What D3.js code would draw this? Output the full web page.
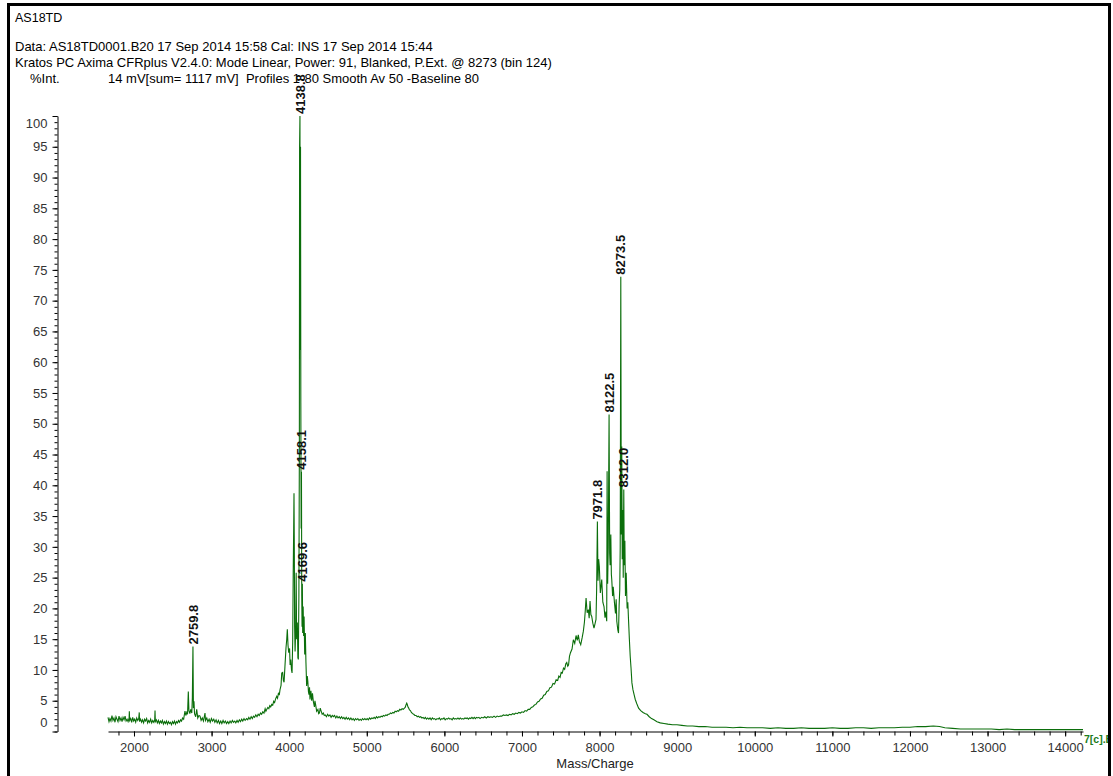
<!DOCTYPE html>
<html>
<head>
<meta charset="utf-8">
<script src="https://cdn.jsdelivr.net/npm/d3@7"></script>
<style>
  html, body { margin: 0; padding: 0; background: #fff; }
  svg { display: block; }
  text { font-family: "Liberation Sans", Arial, sans-serif; }
</style>
</head>
<body>
<div id="chart"></div>
<script>
// header lines
const titleLine = 'AS18TD';
const infoLines = [
  'Data: AS18TD0001.B20 17 Sep 2014 15:58 Cal: INS 17 Sep 2014 15:44',
  'Kratos PC Axima CFRplus V2.4.0: Mode Linear, Power: 91, Blanked, P.Ext. @ 8273 (bin 124)'
];
const yTitle = '%Int.';
const scanInfo = '14 mV[sum= 1117 mV]  Profiles 1-80 Smooth Av 50 -Baseline 80';
const xTitle = 'Mass/Charge';
const traceTag = '7[c].B20';

// axis ticks
const yMajorTicks = [0, 5, 10, 15, 20, 25, 30, 35, 40, 45, 50, 55, 60, 65, 70, 75, 80, 85, 90, 95, 100];
const xMajorTicks = [2000, 3000, 4000, 5000, 6000, 7000, 8000, 9000, 10000, 11000, 12000, 13000, 14000];

// spectrum: [mass/charge, %int]
const lowMass = [
  [1665, 2.3], [1678, 1.6], [1690, 2.1], [1703, 1.7], [1716, 2.6], [1729, 1.8], [1742, 2.2], [1755, 1.5],
  [1768, 2.4], [1781, 2.0], [1794, 1.6], [1807, 2.5], [1820, 1.8], [1833, 2.2], [1846, 1.6], [1859, 2.3],
  [1872, 1.9], [1885, 2.5], [1898, 1.7], [1911, 2.0], [1924, 1.6], [1937, 2.2], [1940, 3.3], [1944, 1.8],
  [1957, 2.1], [1970, 1.5], [1983, 2.3], [1996, 1.7], [2009, 2.0], [2022, 1.5], [2035, 2.2], [2048, 1.8],
  [2061, 2.1], [2068, 3.1], [2072, 1.6], [2085, 2.0], [2098, 1.5], [2111, 1.9], [2124, 1.4], [2137, 2.0],
  [2150, 1.7], [2163, 2.1], [2176, 1.4], [2189, 1.8], [2202, 1.5], [2215, 2.0], [2228, 1.4], [2241, 1.8],
  [2254, 1.5], [2267, 1.9], [2271, 3.4], [2275, 1.6], [2288, 1.9], [2301, 1.4], [2314, 1.8], [2327, 1.3],
  [2340, 1.7], [2353, 1.4], [2366, 1.8], [2379, 1.2], [2392, 1.6], [2405, 1.3], [2418, 1.7], [2431, 1.2],
  [2444, 1.6], [2457, 1.3], [2470, 1.5], [2483, 1.1], [2496, 1.6], [2509, 1.3], [2522, 1.7], [2535, 1.2],
  [2548, 1.6], [2561, 1.4], [2574, 1.8], [2587, 1.5], [2600, 1.9], [2613, 1.7], [2626, 2.2], [2640, 2.0],
  [2650, 2.8], [2657, 3.3], [2668, 2.6], [2680, 3.1], [2690, 2.8], [2700, 6.5], [2708, 3.4], [2720, 2.9],
  [2731, 3.6], [2745, 3.0], [2752, 5.5], [2759.8, 13.8], [2766, 3.8], [2773, 4.9], [2780, 2.9], [2795, 2.4],
  [2808, 3.6], [2822, 2.2], [2837, 2.6], [2851, 2.5], [2865, 1.8], [2880, 2.2], [2895, 1.7], [2915, 3.0],
  [2922, 1.8], [2938, 2.2], [2952, 1.6], [2968, 2.0], [2982, 1.5], [2998, 2.1], [3012, 1.7], [3028, 2.0],
  [3042, 1.5], [3058, 1.9], [3072, 1.4], [3088, 1.8], [3102, 1.3], [3118, 1.7], [3132, 1.3], [3148, 1.8],
  [3162, 1.4], [3178, 1.7], [3192, 1.3], [3208, 1.6], [3222, 1.3], [3238, 1.7], [3252, 1.4], [3268, 1.8],
  [3282, 1.5], [3298, 1.7], [3312, 1.4], [3328, 1.8], [3342, 1.5], [3358, 1.9], [3372, 1.6], [3388, 2.0],
  [3402, 1.7], [3418, 2.1], [3432, 1.8], [3452, 2.1], [3466, 1.9], [3480, 2.3], [3495, 2.0], [3510, 2.4],
  [3525, 2.1], [3540, 2.5], [3555, 2.3], [3570, 2.7], [3585, 2.4], [3600, 2.8], [3615, 2.6], [3630, 3.0],
  [3645, 2.8], [3660, 3.2], [3675, 3.0], [3690, 3.7], [3700, 3.3], [3712, 3.6], [3725, 3.9], [3738, 3.7],
  [3750, 4.2], [3762, 4.0], [3775, 4.4], [3788, 4.3], [3800, 4.9], [3812, 4.7], [3825, 5.3], [3839, 5.7],
  [3850, 5.4], [3862, 6.3], [3872, 5.9]
];
const cluster4k = [
  [3882, 6.8], [3895, 7.5], [3904, 9.5], [3916, 9.6], [3925, 8.3], [3934, 8.0], [3945, 10.5], [3959, 13.6],
  [3968, 14.9], [3976, 16.6], [3985, 14.0], [3994, 12.8], [4005, 13.5], [4012, 10.8], [4020, 11.7], [4030, 10.0],
  [4037, 9.5], [4045, 14.5], [4052, 26], [4058, 33], [4062, 38.7], [4066, 30], [4070, 17], [4076, 13],
  [4084, 16.6], [4090, 25.8], [4096, 15], [4105, 17.7], [4112, 12], [4118, 11.7], [4125, 22], [4131, 45],
  [4134, 95], [4138.8, 100], [4142, 62], [4146, 95], [4150, 53.4], [4154, 33], [4158.1, 42.2], [4162, 22],
  [4166, 17], [4169.6, 24], [4174, 16], [4180, 20.3], [4186, 15.5], [4192, 18.7], [4200, 12.5], [4208, 16],
  [4216, 11.2], [4225, 7.4], [4233, 9.0], [4240, 8.2], [4248, 6.5], [4255, 6.0], [4262, 7.2], [4268, 5.2],
  [4280, 6.6], [4290, 5.0], [4300, 6.2], [4311, 4.9], [4325, 4.0], [4332, 5.0], [4340, 4.4], [4354, 3.3],
  [4370, 3.6], [4380, 2.9], [4390, 3.0], [4400, 3.8], [4410, 3.4], [4425, 2.8], [4440, 3.0], [4452, 2.6]
];
const midMass = [
  [4465, 2.7], [4480, 2.4], [4495, 2.8], [4510, 2.5], [4525, 2.7], [4540, 2.3], [4555, 2.6], [4570, 2.4],
  [4585, 2.6], [4600, 2.2], [4615, 2.5], [4630, 2.2], [4645, 2.4], [4660, 2.1], [4675, 2.4], [4690, 2.1],
  [4705, 2.3], [4720, 2.0], [4735, 2.3], [4750, 2.0], [4765, 2.2], [4780, 1.9], [4795, 2.2], [4810, 1.9],
  [4825, 2.1], [4840, 1.8], [4855, 2.1], [4870, 1.9], [4885, 2.1], [4900, 1.8], [4915, 2.0], [4930, 1.8],
  [4945, 2.1], [4960, 1.9], [4975, 2.1], [4990, 1.9], [5005, 2.1], [5020, 1.9], [5035, 2.2], [5050, 2.0],
  [5065, 2.2], [5080, 2.1], [5095, 2.3], [5110, 2.1], [5125, 2.4], [5140, 2.2], [5155, 2.4], [5170, 2.3],
  [5185, 2.5], [5200, 2.4], [5215, 2.6], [5230, 2.5], [5245, 2.7], [5260, 2.6], [5275, 2.8], [5290, 2.8],
  [5305, 3.0], [5320, 2.9], [5335, 3.1], [5350, 3.0], [5365, 3.3], [5380, 3.2], [5395, 3.4], [5410, 3.3],
  [5425, 3.6], [5440, 3.5], [5455, 3.7], [5470, 3.6], [5485, 3.8], [5495, 3.9], [5505, 4.3], [5515, 4.6],
  [5522, 4.4], [5530, 4.0], [5540, 3.8], [5550, 3.5], [5562, 3.4], [5575, 3.1], [5590, 2.9], [5605, 2.8],
  [5620, 2.6], [5635, 2.6], [5650, 2.4], [5665, 2.5], [5680, 2.3], [5695, 2.4], [5710, 2.2], [5725, 2.3],
  [5740, 2.1], [5755, 2.3], [5770, 2.0], [5785, 2.2], [5800, 2.0], [5815, 2.2], [5830, 1.9], [5845, 2.2],
  [5860, 2.0], [5875, 2.1], [5890, 1.9], [5905, 2.1], [5920, 2.0], [5935, 2.2], [5950, 1.9], [5965, 2.1],
  [5980, 2.0], [5995, 2.2], [6010, 1.9], [6025, 2.1], [6040, 2.0], [6055, 2.2], [6070, 2.0], [6085, 2.1],
  [6100, 1.9], [6115, 2.2], [6130, 2.0], [6145, 2.1], [6160, 2.0], [6175, 2.2], [6190, 2.0], [6205, 2.2],
  [6220, 2.0], [6235, 2.1], [6250, 2.0], [6265, 2.2], [6280, 2.1], [6295, 2.2], [6310, 2.0], [6325, 2.2],
  [6340, 2.1], [6355, 2.3], [6370, 2.1], [6385, 2.3], [6400, 2.1], [6415, 2.3], [6430, 2.2], [6445, 2.3],
  [6460, 2.1], [6480, 2.3], [6500, 2.2], [6520, 2.4], [6540, 2.2], [6560, 2.4], [6580, 2.3], [6600, 2.4],
  [6620, 2.3], [6640, 2.5], [6660, 2.3], [6680, 2.5], [6700, 2.4], [6720, 2.5], [6740, 2.5], [6760, 2.7],
  [6780, 2.6], [6800, 2.7], [6820, 2.6], [6840, 2.8], [6860, 2.7], [6880, 2.9], [6900, 2.8], [6920, 3.0],
  [6940, 2.9], [6960, 3.1], [6980, 3.0], [7000, 3.2], [7020, 3.1], [7040, 3.4], [7060, 3.3], [7080, 3.6],
  [7100, 3.6], [7120, 3.9], [7140, 4.0], [7160, 4.3], [7180, 4.4], [7200, 4.8], [7220, 4.9], [7240, 5.3],
  [7260, 5.4], [7280, 5.9], [7300, 6.0], [7320, 6.5], [7340, 6.6], [7360, 7.1], [7380, 7.2], [7400, 7.8],
  [7420, 7.7], [7440, 8.4], [7460, 8.3], [7475, 9.0], [7491, 8.8], [7505, 9.6], [7520, 9.5], [7535, 10.3],
  [7550, 10.1], [7565, 11.0], [7577, 11.2], [7590, 10.6], [7600, 10.8], [7612, 12.2], [7625, 12.8]
];
const cluster8k = [
  [7645, 13.4], [7662, 14.9], [7680, 14.3], [7697, 15.6], [7712, 14.8], [7726, 15.7], [7740, 14.6], [7757, 14.1],
  [7775, 15.2], [7791, 16.3], [7805, 17.8], [7815, 19.5], [7826, 21.7], [7840, 19.3], [7855, 19.8], [7866, 18.4],
  [7877, 21.2], [7888, 19.0], [7899, 18.7], [7913, 17.6], [7928, 16.8], [7941, 17.5], [7954, 18.2], [7962, 23],
  [7971.8, 34.1], [7980, 24.5], [7988, 28], [7997, 26.8], [8010, 22.5], [8028, 24.7], [8042, 21.0], [8057, 20.3],
  [8070, 18.5], [8082, 19.5], [8092, 17.9], [8097, 42.3], [8104, 24], [8112, 30], [8122.5, 51.5], [8130, 29],
  [8136, 27], [8145, 32], [8152, 25.5], [8157, 24.7], [8168, 22], [8176, 23.5], [8192, 20.9], [8205, 19.2],
  [8214, 21.5], [8222, 17.9], [8235, 16.5], [8244, 16.0], [8252, 20.5], [8260, 23], [8266, 30], [8273.5, 73.9],
  [8280, 32], [8286, 46.3], [8292, 28], [8298, 36], [8305, 25], [8312.0, 39.3], [8318, 27], [8326, 31],
  [8334, 22], [8343, 25.8], [8355, 20], [8364, 21], [8373, 18.2], [8384, 15], [8395, 12.2], [8405, 10.4],
  [8417, 7.9], [8430, 6.8], [8445, 6.0], [8460, 5.2], [8480, 4.5], [8503, 3.8], [8530, 3.4], [8560, 3.1]
];
const highMass = [
  [8590, 2.9], [8611, 2.8], [8640, 2.4], [8670, 2.1], [8700, 1.9], [8740, 1.6], [8782, 1.4], [8830, 1.3],
  [8880, 1.2], [8940, 1.1], [8997, 1.1], [9060, 1.0], [9130, 0.9], [9200, 0.9], [9280, 0.8], [9360, 0.8],
  [9450, 0.7], [9540, 0.7], [9630, 0.7], [9720, 0.6], [9810, 0.7], [9900, 0.6], [10000, 0.6], [10100, 0.6],
  [10200, 0.5], [10300, 0.6], [10400, 0.5], [10500, 0.5], [10600, 0.6], [10700, 0.5], [10800, 0.5], [10900, 0.5],
  [11000, 0.6], [11100, 0.5], [11200, 0.5], [11300, 0.6], [11400, 0.6], [11500, 0.5], [11600, 0.6], [11700, 0.6],
  [11800, 0.6], [11900, 0.7], [12000, 0.7], [12100, 0.8], [12200, 0.8], [12300, 0.9], [12380, 0.8], [12450, 0.6],
  [12550, 0.5], [12650, 0.4], [12750, 0.4], [12850, 0.4], [12950, 0.4], [13050, 0.4], [13150, 0.3], [13250, 0.4],
  [13350, 0.3], [13450, 0.3], [13550, 0.3], [13650, 0.3], [13750, 0.3], [13850, 0.3], [13950, 0.3], [14050, 0.3],
  [14150, 0.3], [14230, 0.3]
];

// labelled peaks (mass/charge)
const peakLabels = [2759.8, 4138.8, 4158.1, 4169.6, 7971.8, 8122.5, 8273.5, 8312.0];

const spectrum = [].concat(lowMass, cluster4k, midMass, cluster8k, highMass);

const width = 1113, height = 776;
const svg = d3.select('#chart').append('svg')
  .attr('width', width)
  .attr('height', height);

// scales
const x = d3.scaleLinear().domain([1665, 14230]).range([108, 1083]);
const y = d3.scaleLinear().domain([0, 100]).range([731.5, 116]);

// header text
svg.append('text')
  .attr('x', 15).attr('y', 22)
  .style('font-size', '12.5px')
  .text(titleLine);

infoLines.forEach((t, i) => {
  svg.append('text')
    .attr('x', 15).attr('y', 51 + i * 16)
    .style('font-size', '13px')
    .text(t);
});

svg.append('text')
  .attr('x', 30).attr('y', 83)
  .style('font-size', '13px')
  .text(yTitle);

svg.append('text')
  .attr('x', 108).attr('y', 83)
  .style('font-size', '13px')
  .style('white-space', 'pre')
  .text(scanInfo);

// Y axis - minor ticks every unit
svg.append('g')
  .attr('transform', 'translate(57.5,0)')
  .call(d3.axisLeft(y).tickValues(d3.range(0, 101, 1)).tickSize(3).tickSizeOuter(0).tickFormat(''))
  .call(g => g.select('.domain').remove());

// Y axis - major ticks with labels
const yAxis = svg.append('g')
  .attr('transform', 'translate(57.5,0)')
  .call(d3.axisLeft(y).tickValues(yMajorTicks).tickSize(5).tickSizeOuter(0).tickPadding(5));
yAxis.selectAll('text')
  .style('font-size', '13px')
  .style('fill', '#333')
  .attr('dy', d => d === 100 ? '0.85em' : d === 0 ? '-0.35em' : '0.32em');

// X axis - minor ticks every 200
svg.append('g')
  .attr('transform', `translate(0,${y(0)})`)
  .call(d3.axisBottom(x).tickValues(d3.range(1800, 14201, 200)).tickSize(4).tickSizeOuter(0).tickFormat(''))
  .call(g => g.select('.domain').remove());

// X axis - major ticks with labels
const xAxis = svg.append('g')
  .attr('transform', `translate(0,${y(0)})`)
  .call(d3.axisBottom(x).tickValues(xMajorTicks).tickSize(5).tickSizeOuter(0).tickPadding(6).tickFormat(d3.format('d')));
xAxis.selectAll('text')
  .style('font-size', '13px')
  .style('fill', '#333');

// axis title
svg.append('text')
  .attr('x', 595).attr('y', 768)
  .attr('text-anchor', 'middle')
  .style('font-size', '13px')
  .style('fill', '#222')
  .text(xTitle);

// spectrum trace
const line = d3.line()
  .x(d => x(d[0]))
  .y(d => y(d[1]));

svg.append('path')
  .datum(spectrum)
  .attr('fill', 'none')
  .attr('stroke', '#0b6e0b')
  .attr('stroke-width', 1.1)
  .attr('d', line);

// peak labels, rotated, sitting on top of each peak
const peakMap = new Map(spectrum.map(d => [d[0], d[1]]));
svg.selectAll('.peak-label')
  .data(peakLabels)
  .enter()
  .append('text')
  .attr('class', 'peak-label')
  .attr('transform', d => `translate(${x(d)},${y(peakMap.get(d)) - 2}) rotate(-90)`)
  .attr('dy', '0.36em')
  .style('font-size', '13px')
  .style('font-weight', 'bold')
  .style('fill', '#111')
  .text(d => d.toFixed(1));

// trace tag at the end of the axis (cut by the frame, as in the original)
svg.append('clipPath')
  .attr('id', 'frame-clip')
  .append('rect')
  .attr('x', 0).attr('y', 0).attr('width', 1109).attr('height', height);

svg.append('text')
  .attr('x', 1084).attr('y', 743)
  .attr('clip-path', 'url(#frame-clip)')
  .style('font-size', '10.5px')
  .style('font-weight', 'bold')
  .style('fill', '#1c7c1c')
  .text(traceTag);

// window frame
svg.append('rect')
  .attr('x', 8.5).attr('y', 4.5)
  .attr('width', 1101).attr('height', 800)
  .attr('fill', 'none')
  .attr('stroke', '#000')
  .attr('stroke-width', 3);
</script>
</body>
</html>
